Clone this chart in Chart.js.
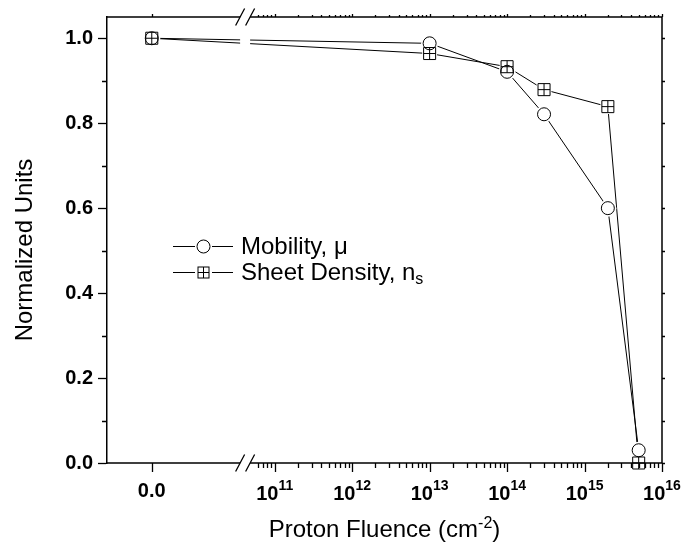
<!DOCTYPE html>
<html>
<head>
<meta charset="utf-8">
<script src="https://cdn.jsdelivr.net/npm/chart.js@4/dist/chart.umd.min.js"></script>
<style>
  html, body { margin: 0; padding: 0; background: #fff; }
  #wrap { width: 681px; height: 548px; }
</style>
</head>
<body>
<div id="wrap"><canvas id="fluenceChart"></canvas></div>
<script>
// proton fluence (cm^-2) and normalized values
const fluence = [0, 1e13, 1e14, 3e14, 2e15, 5e15];
const mobility = [1.0, 0.988, 0.921, 0.821, 0.600, 0.030];
const sheetDensity = [1.0, 0.964, 0.933, 0.879, 0.839, 0.0];
const yTicks = [0, 0.2, 0.4, 0.6, 0.8, 1.0];
const decades = [11, 12, 13, 14, 15, 16];
const seriesNames = ['Mobility, \u03bc', 'Sheet Density, n'];

// broken x axis: a "0.0" slot on the left, then log10 decades
const ZERO_POS = 9.413;
const X_MIN = 8.835;
const X_MAX = 16;
const BREAK_POS = 10.618;
const xPos = f => (f === 0 ? ZERO_POS : Math.log10(f));
const toPoints = vals => fluence.map((f, i) => ({ x: xPos(f), y: vals[i] }));

const FONT = '"Liberation Sans", Arial, Helvetica, sans-serif';

function drawCircle(ctx, cx, cy, r) {
  ctx.beginPath();
  ctx.arc(cx, cy, r, 0, Math.PI * 2);
  ctx.stroke();
}
function drawBoxCross(ctx, cx, cy, h) {
  ctx.strokeRect(cx - h, cy - h, 2 * h, 2 * h);
  ctx.beginPath();
  ctx.moveTo(cx - h, cy); ctx.lineTo(cx + h, cy);
  ctx.moveTo(cx, cy - h); ctx.lineTo(cx, cy + h);
  ctx.stroke();
}

const brokenAxes = {
  id: 'brokenAxes',
  afterDatasetsDraw(chart) {
    const { ctx, chartArea: a, scales: { x, y } } = chart;
    const bx = x.getPixelForValue(BREAK_POS);
    ctx.save();

    // white strip where the axis is broken
    ctx.fillStyle = '#fff';
    ctx.fillRect(bx - 5, a.top - 4, 10, a.bottom - a.top + 8);

    ctx.strokeStyle = '#000';
    ctx.lineWidth = 1.5;
    ctx.beginPath();
    ctx.moveTo(a.left, a.bottom); ctx.lineTo(bx - 5, a.bottom);
    ctx.moveTo(bx + 5, a.bottom); ctx.lineTo(a.right, a.bottom);
    ctx.moveTo(a.left, a.top); ctx.lineTo(bx - 5, a.top);
    ctx.moveTo(bx + 5, a.top); ctx.lineTo(a.right, a.top);
    ctx.moveTo(a.right, a.top); ctx.lineTo(a.right, a.bottom);
    ctx.stroke();

    // break slashes
    ctx.lineWidth = 1.3;
    ctx.beginPath();
    [a.top, a.bottom].forEach(yy => {
      [-5, 5].forEach(dx => {
        ctx.moveTo(bx + dx - 4.5, yy + 8.5);
        ctx.lineTo(bx + dx + 4.5, yy - 8.5);
      });
    });
    ctx.stroke();

    // x ticks
    const majors = [ZERO_POS].concat(decades);
    const minors = [];
    for (let n = 10; n < 16; n++) {
      for (let k = 2; k <= 9; k++) {
        const u = n + Math.log10(k);
        if (u > 10.72) minors.push(u);
      }
    }
    ctx.lineWidth = 1.3;
    ctx.beginPath();
    majors.forEach(u => {
      const px = Math.round(x.getPixelForValue(u)) + 0.5;
      ctx.moveTo(px, a.bottom); ctx.lineTo(px, a.bottom + 9);
      ctx.moveTo(px, a.top); ctx.lineTo(px, a.top - 3);
    });
    minors.forEach(u => {
      const px = Math.round(x.getPixelForValue(u)) + 0.5;
      ctx.moveTo(px, a.bottom); ctx.lineTo(px, a.bottom + 5);
      ctx.moveTo(px, a.top); ctx.lineTo(px, a.top - 2);
    });
    // y minor ticks (left) and mirrored ticks (right)
    for (let i = 0; i <= 10; i++) {
      const py = Math.round(y.getPixelForValue(i / 10)) + 0.5;
      if (i % 2 === 1) {
        ctx.moveTo(a.left, py); ctx.lineTo(a.left - 5, py);
      }
      ctx.moveTo(a.right, py); ctx.lineTo(a.right + 3, py);
    }
    ctx.stroke();

    // x tick labels
    ctx.fillStyle = '#000';
    ctx.textBaseline = 'alphabetic';
    ctx.textAlign = 'center';
    ctx.font = 'bold 20px ' + FONT;
    ctx.fillText('0.0', x.getPixelForValue(ZERO_POS), 497);
    ctx.textAlign = 'left';
    decades.forEach(n => {
      ctx.font = 'bold 20px ' + FONT;
      const wBase = ctx.measureText('10').width;
      ctx.font = 'bold 14px ' + FONT;
      const wExp = ctx.measureText(String(n)).width;
      const left = x.getPixelForValue(n) - (wBase + wExp) / 2;
      ctx.font = 'bold 20px ' + FONT;
      ctx.fillText('10', left, 500);
      ctx.font = 'bold 14px ' + FONT;
      ctx.fillText(String(n), left + wBase, 490);
    });

    // x axis title with superscript
    const t1 = 'Proton Fluence (cm', t2 = '-2', t3 = ')';
    ctx.font = '24px ' + FONT;
    const w1 = ctx.measureText(t1).width, w3 = ctx.measureText(t3).width;
    ctx.font = '16px ' + FONT;
    const w2 = ctx.measureText(t2).width;
    let tx = (a.left + a.right) / 2 - (w1 + w2 + w3) / 2;
    ctx.font = '24px ' + FONT;
    ctx.fillText(t1, tx, 537);
    ctx.font = '16px ' + FONT;
    ctx.fillText(t2, tx + w1, 528);
    ctx.font = '24px ' + FONT;
    ctx.fillText(t3, tx + w1 + w2, 537);

    // y axis title
    ctx.save();
    ctx.translate(32, 250);
    ctx.rotate(-Math.PI / 2);
    ctx.textAlign = 'center';
    ctx.font = '24px ' + FONT;
    ctx.fillText('Normalized Units', 0, 0);
    ctx.restore();

    // legend
    const rows = [246, 272];
    rows.forEach((ry, i) => {
      ctx.strokeStyle = '#000';
      ctx.lineWidth = 1;
      ctx.beginPath();
      ctx.moveTo(173, ry + 0.5); ctx.lineTo(233, ry + 0.5);
      ctx.stroke();
      ctx.fillStyle = '#fff';
      ctx.fillRect(195, ry - 8, 17, 17);
      if (i === 0) drawCircle(ctx, 203.5, ry + 0.5, 6.5);
      else drawBoxCross(ctx, 203.5, ry + 0.5, 5.5);
      ctx.fillStyle = '#000';
      ctx.textAlign = 'left';
      ctx.textBaseline = 'middle';
      ctx.font = '24px ' + FONT;
      ctx.fillText(seriesNames[i], 241, ry + 1);
      if (i === 1) {
        const w = ctx.measureText(seriesNames[i]).width;
        ctx.font = '16px ' + FONT;
        ctx.fillText('s', 241 + w, ry + 8);
      }
    });
    ctx.restore();
  }
};

const lineBase = { showLine: true, pointRadius: 0, borderColor: '#000', borderWidth: 1, fill: false, tension: 0, clip: false };
const markBase = { showLine: false, borderColor: '#000', pointBorderWidth: 1, pointBackgroundColor: 'rgba(0,0,0,0)', clip: false };
const maskBase = { showLine: false, pointBorderWidth: 0, pointBorderColor: '#fff', pointBackgroundColor: '#fff', clip: false };

new Chart(document.getElementById('fluenceChart').getContext('2d'), {
  type: 'scatter',
  data: {
    datasets: [
      Object.assign({ label: 'mobility line', data: toPoints(mobility), order: 3 }, lineBase),
      Object.assign({ label: 'sheet line', data: toPoints(sheetDensity), order: 3 }, lineBase),
      Object.assign({ label: 'mobility mask', data: toPoints(mobility), order: 2, pointStyle: 'circle', pointRadius: 8.5 }, maskBase),
      Object.assign({ label: 'sheet mask', data: toPoints(sheetDensity), order: 2, pointStyle: 'rect', pointRadius: 10.5 }, maskBase),
      Object.assign({ label: seriesNames[0], data: toPoints(mobility), order: 1, pointStyle: 'circle', pointRadius: 6.5 }, markBase),
      Object.assign({ label: seriesNames[1], data: toPoints(sheetDensity), order: 1, pointStyle: 'rect', pointRadius: 8.5 }, markBase),
      Object.assign({ label: 'sheet cross', data: toPoints(sheetDensity), order: 1, pointStyle: 'cross', pointRadius: 6 }, markBase),
    ],
  },
  options: {
    responsive: true,
    maintainAspectRatio: false,
    animation: false,
    devicePixelRatio: 1,
    layout: { padding: { left: 0, top: 15, right: 19, bottom: 85 } },
    plugins: { legend: { display: false }, tooltip: { enabled: false } },
    scales: {
      x: { type: 'linear', min: X_MIN, max: X_MAX, display: false },
      y: {
        type: 'linear',
        min: 0,
        max: 1.05,
        afterBuildTicks: s => { s.ticks = yTicks.map(v => ({ value: v })); },
        afterFit: s => { s.width = 107; },
        ticks: {
          color: '#000',
          padding: 5,
          font: { family: FONT, size: 20, weight: 'bold' },
          callback: v => Number(v).toFixed(1),
        },
        grid: { drawOnChartArea: false, drawTicks: true, tickLength: 9, tickColor: '#000', tickWidth: 1.3 },
        border: { display: true, color: '#000', width: 1.5 },
      },
    },
  },
  plugins: [brokenAxes],
});
</script>
</body>
</html>
